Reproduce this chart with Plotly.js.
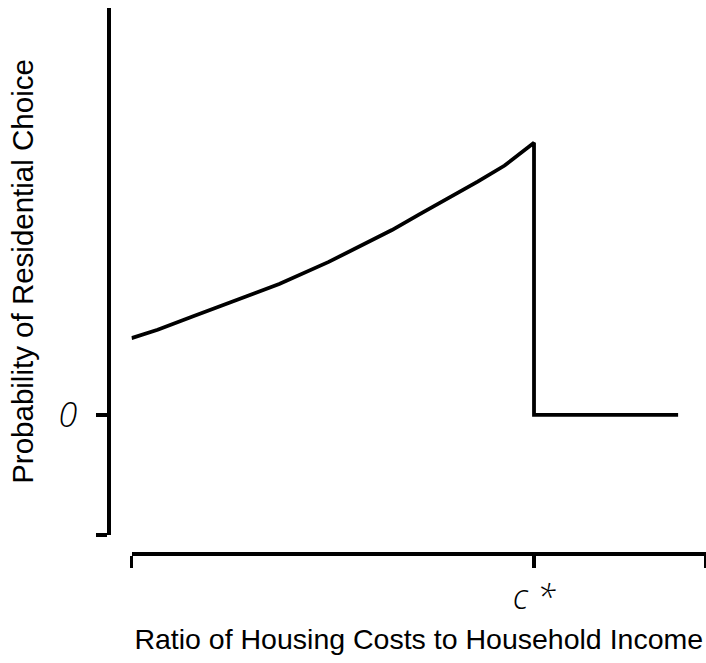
<!DOCTYPE html>
<html>
<head>
<meta charset="utf-8">
<script src="https://cdn.plot.ly/plotly-3.0.1.min.js"></script>
<style>html,body{margin:0;padding:0;background:#fff;}#chart{width:706px;height:663px;}</style>
</head>
<body>
<div id="chart"></div>
<script>
// Curve values (x in units of c*, y relative to peak probability)
const curveX = [0, 0.065, 0.155, 0.278, 0.367, 0.490, 0.569, 0.647, 0.714, 0.793, 0.860, 0.927, 1.0];
const curveY = [0.282, 0.313, 0.363, 0.430, 0.481, 0.562, 0.619, 0.679, 0.736, 0.800, 0.857, 0.916, 1.0];
// Drop at c* and zero tail
const dropX = [1.0, 1.0, 1.358];
const dropY = [1.0, 0, 0];

const xTickVals = [0, 1, 1.4273];
const xTickText = ['', 'c *', ''];
const yTickVals = [-0.441, 0];
const yTickText = ['', '0'];

const xTitle = 'Ratio of Housing Costs to Household Income';
const yTitle = 'Probability of Residential Choice';

const L = 100, R = 0, T = 8, B = 100;
const W = 706, H = 663;
const pw = W - L - R, ph = H - T - B;

const traces = [
  {x: curveX.concat(dropX), y: curveY.concat(dropY), mode: 'lines', type: 'scatter',
   line: {color: '#000', width: 3.8}, hoverinfo: 'skip'}
];

const tickFont = {family: 'Open Sans, Liberation Sans, Arial, sans-serif', size: 34, color: '#000', style: 'italic', weight: 300};
const xTitleFont = {family: 'Liberation Sans, Arial, sans-serif', size: 28.5, color: '#000'};
const yTitleFont = {family: 'Liberation Sans, Arial, sans-serif', size: 29.5, color: '#000'};

const layout = {
  width: W, height: H,
  margin: {l: L, r: R, t: T, b: B, pad: 0},
  paper_bgcolor: '#fff', plot_bgcolor: '#fff',
  showlegend: false,
  xaxis: {
    domain: [(131.5 - L) / pw, 1],
    range: [0, 1.4273],
    anchor: 'free',
    position: (T + ph - 554) / ph,
    showline: true, linecolor: '#000', linewidth: 4,
    showgrid: false, zeroline: false,
    ticks: 'outside', ticklen: 12, tickwidth: 3.5, tickcolor: '#000',
    tickmode: 'array', tickvals: xTickVals, ticktext: xTickText,
    tickfont: tickFont, ticklabelstandoff: 0,
    title: {text: xTitle, font: xTitleFont, standoff: 10}
  },
  yaxis: {
    domain: [(T + ph - 535) / ph, 1],
    range: [-0.441, 1.4945],
    anchor: 'free',
    position: (108 - L) / pw,
    showline: true, linecolor: '#000', linewidth: 3.5,
    showgrid: false, zeroline: false,
    ticks: 'outside', ticklen: 11, tickwidth: 3.5, tickcolor: '#000',
    tickmode: 'array', tickvals: yTickVals, ticktext: yTickText,
    tickfont: tickFont, ticklabelstandoff: 12,
    title: {text: yTitle, font: yTitleFont, standoff: 14}
  }
};

Plotly.newPlot('chart', traces, layout, {displayModeBar: false, staticPlot: true});
</script>
</body>
</html>
